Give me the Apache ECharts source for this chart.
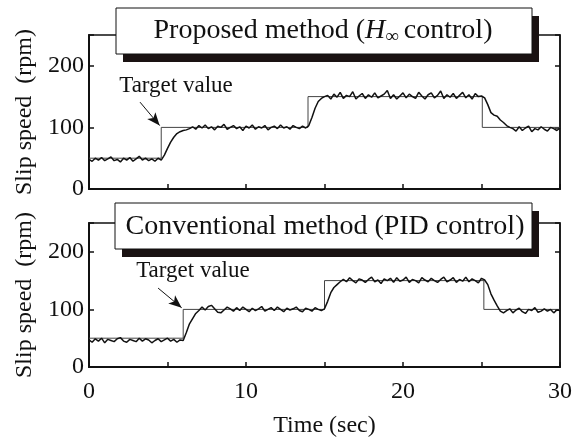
<!DOCTYPE html>
<html><head><meta charset="utf-8">
<script src="https://cdn.jsdelivr.net/npm/echarts@6/dist/echarts.min.js"></script>
<style>html,body{margin:0;padding:0;background:#fff}#c{width:581px;height:439px}</style>
</head><body><div id="c"></div>
<script>
// Target steps (time in sec, speed in rpm)
const targetTopT = [0, 4.6, 4.6, 13.95, 13.95, 25.05, 25.05, 30];
const targetTopV = [50, 50, 100, 100, 150, 150, 100, 100];
const targetBotT = [0, 6.0, 6.0, 15.0, 15.0, 25.15, 25.15, 30];
const targetBotV = [50, 50, 100, 100, 150, 150, 100, 100];
// Measured slip speed, sampled every 0.2 s from 0 to 30 s
const hinfSpeed = [
 48,45,50,47,51,46,49,52,46,48,44,50,47,51,45,49,53,47,50,46,49,45,50,47,
 55,66,76,84,90,93,95,96,98,
 101,97,103,99,104,98,101,96,102,100,105,97,100,103,98,101,95,102,99,104,97,101,99,103,96,100,102,98,104,99,101,97,103,100,98,102,99,
 103,116,131,142,147,150,
 152,146,154,149,157,147,152,150,158,146,151,155,147,153,149,156,148,151,154,160,147,153,146,151,156,148,154,150,147,157,151,146,153,156,148,152,159,147,153,149,155,147,152,157,148,153,146,155,150,151,
 148,137,124,120,118,112,108,103,100,
 98,94,101,95,99,102,93,98,96,101,97,94,100,98,95,99
];
const pidSpeed = [
 47,43,49,45,50,42,48,46,44,49,51,45,43,48,46,44,50,45,49,47,42,46,49,44,47,50,45,48,43,47,46,
 60,75,84,93,98,104,99,105,107,101,95,94,99,104,
 101,97,103,98,104,100,96,102,98,101,105,97,100,103,98,104,100,96,102,99,101,104,98,96,102,100,97,103,100,98,101,
 114,129,138,143,148,
 152,148,155,150,146,153,151,147,152,156,148,151,145,153,150,154,147,155,149,151,156,147,152,150,146,155,151,148,154,150,147,152,156,148,151,155,147,152,149,156,148,153,150,146,154,151,
 143,127,116,106,97,94,
 98,101,94,99,102,96,93,100,98,103,95,97,101,97,100,94,99,98
];
const xTicks = [0, 10, 20, 30];
const yTicks = [0, 100, 200];

const FONT = '"Liberation Serif", "DejaVu Serif", serif';
const toPairs = (arr) => arr.map((v, i) => [i * 30 / (arr.length - 1), v]);
const zip = (t, v) => t.map((x, i) => [x, v[i]]);

const chart = echarts.init(document.getElementById('c'));
const xAxisBase = (gi, showLabels) => ({
  gridIndex: gi, type: 'value', min: 0, max: 30, interval: 5,
  axisLine: {show: true, lineStyle: {color: '#111', width: 2}},
  axisTick: {show: true, inside: true, length: 5, lineStyle: {color: '#111', width: 1.5}},
  splitLine: {show: false},
  axisLabel: {show: showLabels, fontFamily: FONT, fontSize: 24, color: '#111', margin: 13,
    formatter: v => xTicks.includes(v) ? String(v) : ''},
  name: showLabels ? 'Time (sec)' : '', nameLocation: 'middle', nameGap: 47,
  nameTextStyle: {fontFamily: FONT, fontSize: 24, color: '#111'}
});
const yAxisBase = (gi, right) => ({
  gridIndex: gi, type: 'value', min: 0, max: 250, interval: 100,
  position: right ? 'right' : 'left',
  axisLine: {show: true, onZero: false, lineStyle: {color: '#111', width: right ? 1.5 : 2}},
  axisTick: {show: true, inside: true, length: 5, lineStyle: {color: '#111', width: 1.5}},
  splitLine: {show: false},
  axisLabel: {show: !right, fontFamily: FONT, fontSize: 24, color: '#111', margin: 5,
    formatter: v => yTicks.includes(v) ? String(v) : ''},
  name: right ? '' : 'Slip speed  (rpm)', nameLocation: 'middle', nameRotate: 90, nameGap: 52,
  nameTextStyle: {fontFamily: FONT, fontSize: 24, color: '#111'}
});

const titleBox = (x, y, w, h, textObj) => ({
  type: 'group', z: 100, children: [
    {type: 'rect', shape: {x: x + 7, y: y + 8, width: w, height: h}, style: {fill: '#1a1212'}},
    {type: 'rect', shape: {x: x, y: y, width: w, height: h}, style: {fill: '#fff', stroke: '#111', lineWidth: 1}},
    Object.assign({type: 'text'}, textObj)
  ]
});

const annotation = (coordText, from, to) => ({
  markLine: {silent: true, symbol: ['none', 'arrow'], symbolSize: [8, 13],
    lineStyle: {color: '#111', width: 1, type: 'solid'}, label: {show: false},
    data: [[{coord: from}, {coord: to}]]},
  markPoint: {silent: true, symbol: 'rect', symbolSize: 1, itemStyle: {color: 'rgba(0,0,0,0)'},
    label: {show: true, position: 'inside', formatter: 'Target value', fontFamily: FONT, fontSize: 23, color: '#111'},
    data: [{coord: coordText}]}
});

chart.setOption({
  animation: false,
  backgroundColor: '#fff',
  grid: [
    {left: 89, top: 35, width: 471, height: 154, show: true, borderColor: '#111', borderWidth: 1.5},
    {left: 89, top: 223, width: 471, height: 155, show: true, borderColor: '#111', borderWidth: 1.5}
  ],
  xAxis: [xAxisBase(0, false), xAxisBase(1, true)],
  yAxis: [yAxisBase(0, false), yAxisBase(0, true), yAxisBase(1, false), yAxisBase(1, true)],
  series: [
    {type: 'line', xAxisIndex: 0, yAxisIndex: 0, data: zip(targetTopT, targetTopV), showSymbol: false,
      lineStyle: {color: '#444', width: 1}},
    Object.assign({type: 'line', xAxisIndex: 0, yAxisIndex: 0, data: toPairs(hinfSpeed), showSymbol: false,
      lineStyle: {color: '#111', width: 1.5}}, annotation([5.54, 167], [3.25, 141], [4.5, 103])),
    {type: 'line', xAxisIndex: 1, yAxisIndex: 2, data: zip(targetBotT, targetBotV), showSymbol: false,
      lineStyle: {color: '#444', width: 1}},
    Object.assign({type: 'line', xAxisIndex: 1, yAxisIndex: 2, data: toPairs(pidSpeed), showSymbol: false,
      lineStyle: {color: '#111', width: 1.5}}, annotation([6.62, 166], [4.4, 137], [5.9, 103]))
  ],
  graphic: [
    titleBox(116, 8, 416, 46, {
      x: 323, y: 31,
      style: {text: 'Proposed method ({i|H}{s|∞}control)', font: '28px ' + FONT, fill: '#111',
        align: 'center', verticalAlign: 'middle',
        rich: {i: {fontStyle: 'italic', fontSize: 28, fontFamily: FONT, fill: '#111'},
               s: {fontSize: 19, fontFamily: FONT, fill: '#111', padding: [12, 5, 0, 0]}}}
    }),
    titleBox(115, 203, 417, 46, {
      x: 325, y: 227,
      style: {text: 'Conventional method (PID control)', font: '28px ' + FONT, fill: '#111',
        align: 'center', verticalAlign: 'middle'}
    })
  ]
});
</script></body></html>
